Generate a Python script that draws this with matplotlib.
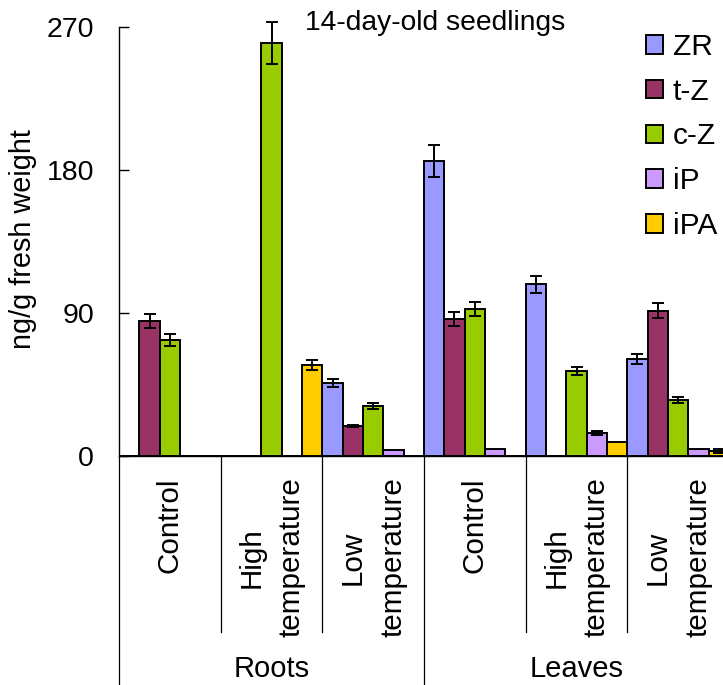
import matplotlib
matplotlib.use("Agg")
import matplotlib.pyplot as plt
import matplotlib.transforms as mtransforms
from matplotlib.patches import Patch
import numpy as np

plt.rcParams["font.family"] = ["Liberation Sans", "DejaVu Sans"]

# ---------------------------------------------------------------------------
# Data (ng/g fresh weight, 14-day-old seedlings)
# ---------------------------------------------------------------------------
conditions = ["Control", "High\ntemperature", "Low\ntemperature",
              "Control", "High\ntemperature", "Low\ntemperature"]
tissues = ["Roots", "Leaves"]
series = ["ZR", "t-Z", "c-Z", "iP", "iPA"]

zr = [0, 0, 46, 185.5, 108, 61]
t_z = [85, 0, 19, 86, 0, 91.5]
c_z = [73, 260, 31.5, 92.5, 53.5, 35]
ip = [0, 0, 3.5, 4.5, 14.5, 4.2]
ipa = [0, 57.5, 0, 0, 8.5, 3.2]

zr_err = [0, 0, 2.4, 10, 5.2, 3.1]
t_z_err = [4.2, 0, 0.6, 4.4, 0, 4.8]
c_z_err = [3.7, 13, 1.8, 4.7, 2.5, 1.9]
ip_err = [0, 0, 0, 0, 1.3, 0]
ipa_err = [0, 3.1, 0, 0, 0, 1.0]

colors = ["#9999FF", "#993366", "#99CC00", "#CC99FF", "#FFCC00"]
yticks = [0, 90, 180, 270]

# ---------------------------------------------------------------------------
# Plot
# ---------------------------------------------------------------------------
fig = plt.figure(figsize=(7.23, 6.85), dpi=100)
ax = fig.add_axes([119 / 723, 1 - 456 / 685, 610 / 723, 429 / 685])

values = [zr, t_z, c_z, ip, ipa]
errors = [zr_err, t_z_err, c_z_err, ip_err, ipa_err]
n_cat = len(conditions)
width = 1.0 / len(series)
x = np.arange(n_cat)

for i, (name, vals, errs, col) in enumerate(zip(series, values, errors, colors)):
    yerr = [e if e > 0 else np.nan for e in errs]
    bars = ax.bar(x + width * (i + 0.5), vals, width=width, color=col,
                  edgecolor="black", linewidth=1.4, yerr=yerr,
                  error_kw=dict(ecolor="black", elinewidth=1.4, capsize=4.5,
                                capthick=1.4), label=name, zorder=2)
    eb = bars.errorbar
    for art in eb.lines[1]:
        art.set_clip_on(False)
    for art in eb.lines[2]:
        art.set_clip_on(False)

ax.set_xlim(0, n_cat)
ax.set_ylim(0, 270)
ax.set_yticks(yticks)
ax.tick_params(axis="y", labelsize=20.5, direction="in", length=7, width=1,
               pad=18)
ax.set_xticks([])
for s in ["top", "right"]:
    ax.spines[s].set_visible(False)
ax.spines["left"].set_linewidth(1)
ax.spines["bottom"].set_linewidth(1)

# category separators and labels below the axis
trans = mtransforms.blended_transform_factory(ax.transData, ax.transAxes)
n_per = n_cat // len(tissues)
for k in range(n_cat + 1):
    outer = (k % n_per == 0)
    ax.plot([k, k], [0, -0.535 if outer else -0.41], transform=trans,
            color="black", linewidth=0.9, clip_on=False)
for k, lab in enumerate(conditions):
    ax.text(k + 0.5, -0.05, lab, transform=trans, rotation=90, ha="center",
            va="top", fontsize=21.3, linespacing=1.55)
for j, tis in enumerate(tissues):
    ax.text(j * n_per + n_per / 2, -0.497, tis, transform=trans, ha="center",
            va="center", fontsize=21)

fig.text(23 / 723, 1 - 239 / 685, "ng/g fresh weight", rotation=90,
         ha="center", va="center", fontsize=20.8)
fig.text(435 / 723, 1 - 23 / 685, "14-day-old seedlings", ha="center",
         va="center", fontsize=20.3)

handles = [Patch(facecolor=c, edgecolor="black", linewidth=1.4) for c in colors]
fig.legend(handles, series, loc="upper left",
           bbox_to_anchor=(646 / 723, 1 - 33 / 685), frameon=False,
           fontsize=21.5, handlelength=0.57, handleheight=0.57,
           handletextpad=0.33, labelspacing=0.56, borderpad=0, borderaxespad=0)

fig.savefig("out.png", dpi=100)
